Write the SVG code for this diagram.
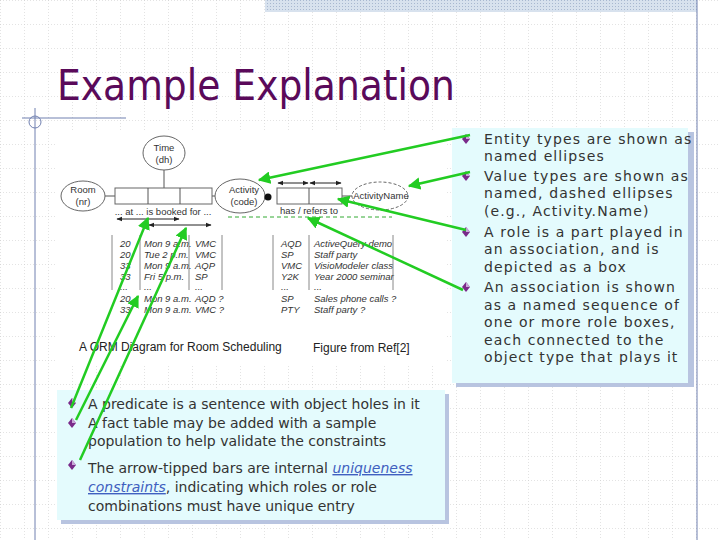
<svg xmlns="http://www.w3.org/2000/svg" width="720" height="540" viewBox="0 0 720 540">
<defs>
<pattern id="grid" width="24" height="24" patternUnits="userSpaceOnUse"><path d="M0 0H24M0 0V24" stroke="#c8c8c8" stroke-width="1" stroke-dasharray="1 2" fill="none"/></pattern>
<pattern id="hatch" width="3" height="3" patternUnits="userSpaceOnUse"><rect width="3" height="3" fill="#d8e2ee"/><rect width="1" height="1" fill="#a8b8d0"/></pattern>
<marker id="ga" viewBox="0 0 10 10" refX="9" refY="5" markerWidth="5" markerHeight="5" orient="auto"><path d="M0 0L10 5L0 10z" fill="#22cc22"/></marker>
<marker id="ba" viewBox="0 0 10 10" refX="9" refY="5" markerWidth="6" markerHeight="6" orient="auto-start-reverse"><path d="M0 1L10 5L0 9z" fill="#222"/></marker>
<g id="bul"><path d="M0 -5L4 0L0 5L-4 0z" fill="#7a2a8a"/><path d="M0 -5L4 0L0 0z" fill="#c9a8d8"/></g>
</defs>
<style>
.s{font-family:"Liberation Sans",Arial,sans-serif;fill:#222}
.b{font-family:"DejaVu Sans",sans-serif;font-size:14px;fill:#333}
.r{letter-spacing:1.1px}
.d{font-family:"Liberation Sans",Arial,sans-serif;font-size:9.5px;fill:#333}
.i{font-family:"Liberation Sans",Arial,sans-serif;font-size:9.5px;font-style:italic;fill:#333}
.ln{stroke:#555;stroke-width:1;fill:none}
.el{stroke:#666;stroke-width:1;fill:#fff}
.g{stroke:#22cc22;stroke-width:2.5;fill:none;marker-end:url(#ga)}
</style>
<rect width="720" height="540" fill="#fff"/>
<rect width="720" height="540" fill="url(#grid)"/>
<rect x="265" y="0" width="432" height="12" fill="url(#hatch)"/>
<line x1="697" y1="0" x2="697" y2="540" stroke="#7080b0"/>
<line x1="22" y1="118" x2="126" y2="118" stroke="#7080b0"/>
<line x1="35" y1="108" x2="35" y2="540" stroke="#7080b0"/>
<circle cx="35" cy="122" r="6" fill="none" stroke="#7080b0"/>
<text x="57" y="100" font-family="DejaVu Sans,sans-serif" font-size="43" fill="#5a0a5a" textLength="398" lengthAdjust="spacingAndGlyphs">Example Explanation</text>

<rect x="57" y="130" width="388" height="235" fill="#fff"/>

<g id="box-right">
<rect x="456" y="132" width="238" height="255" fill="#b8c4e0"/>
<rect x="452" y="128" width="236" height="255" fill="#e4fbfd"/>
<use href="#bul" x="466" y="139"/><use href="#bul" x="466" y="176"/><use href="#bul" x="466" y="232"/><use href="#bul" x="466" y="287"/>
<g class="b r">
<text x="484" y="144">Entity types are shown as</text>
<text x="484" y="161">named ellipses</text>
<text x="484" y="181">Value types are shown as</text>
<text x="484" y="198">named, dashed ellipses</text>
<text x="484" y="216">(e.g., Activity.Name)</text>
<text x="484" y="237">A role is a part played in</text>
<text x="484" y="254">an association, and is</text>
<text x="484" y="272">depicted as a box</text>
<text x="484" y="292">An association is shown</text>
<text x="484" y="310">as a named sequence of</text>
<text x="484" y="327">one or more role boxes,</text>
<text x="484" y="345">each connected to the</text>
<text x="484" y="362">object type that plays it</text>
</g>
</g>

<g id="box-bottom">
<rect x="61" y="394" width="388" height="130" fill="#b8c4e0"/>
<rect x="57" y="390" width="388" height="130" fill="#e4fbfd"/>
<use href="#bul" x="72" y="403"/><use href="#bul" x="72" y="423"/><use href="#bul" x="72" y="465"/>
<g class="b">
<text x="88" y="409">A predicate is a sentence with object holes in it</text>
<text x="88" y="428">A fact table may be added with a sample</text>
<text x="88" y="446">population to help validate the constraints</text>
<text x="88" y="473">The arrow-tipped bars are internal <tspan fill="#4060c0" font-style="italic" text-decoration="underline">uniqueness</tspan></text>
<text x="88" y="492"><tspan fill="#4060c0" font-style="italic" text-decoration="underline">constraints</tspan>, indicating which roles or role</text>
<text x="88" y="511">combinations must have unique entry</text>
</g>
</g>

<g id="orm">
<line class="ln" x1="164" y1="170" x2="164" y2="188"/>
<line class="ln" x1="105" y1="196" x2="115" y2="196"/>
<line class="ln" x1="212" y1="196" x2="215" y2="196"/>
<line class="ln" x1="342" y1="196" x2="352" y2="196"/>
<g id="time"><ellipse class="el" cx="164" cy="153" rx="21" ry="17"/><text class="d" x="164" y="151" text-anchor="middle">Time</text><text class="d" x="164" y="163" text-anchor="middle">(dh)</text></g>
<g id="room"><ellipse class="el" cx="83" cy="196" rx="22" ry="15"/><text class="d" x="83" y="193" text-anchor="middle">Room</text><text class="d" x="83" y="205" text-anchor="middle">(nr)</text></g>
<g id="activity"><ellipse class="el" cx="240" cy="196" rx="25" ry="17"/><text class="d" x="244" y="193" text-anchor="middle">Activity</text><text class="d" x="244" y="205" text-anchor="middle">(code)</text></g>
<g id="activityname"><ellipse class="el" cx="380" cy="196" rx="28" ry="14" stroke-dasharray="3 2"/><text class="d" x="381" y="199" text-anchor="middle">ActivityName</text></g>
<circle cx="268" cy="197" r="3.5" fill="#111"/>
<g id="pred1"><rect class="el" x="115" y="188" width="97" height="16"/><line class="ln" x1="148" y1="188" x2="148" y2="204"/><line class="ln" x1="180" y1="188" x2="180" y2="204"/>
<text class="d" x="163" y="215" text-anchor="middle">... at ... is booked for ...</text></g>
<g id="pred2"><rect class="el" x="277" y="188" width="65" height="16"/><line class="ln" x1="309" y1="188" x2="309" y2="204"/>
<text class="d" x="309" y="214" text-anchor="middle">has / refers to</text></g>
<line x1="228" y1="217" x2="392" y2="217" stroke="#3a3" stroke-dasharray="4 3"/>
<line x1="117" y1="219" x2="179" y2="219" stroke="#222" marker-start="url(#ba)" marker-end="url(#ba)"/>
<line x1="149" y1="225" x2="211" y2="225" stroke="#222" marker-start="url(#ba)" marker-end="url(#ba)"/>
<line x1="278" y1="183" x2="308" y2="183" stroke="#222" marker-start="url(#ba)" marker-end="url(#ba)"/>
<line x1="310" y1="183" x2="341" y2="183" stroke="#222" marker-start="url(#ba)" marker-end="url(#ba)"/>
<g id="table1" stroke="#888"><path d="M112 235V290M140 235V290M189 235V290M222 235V290"/></g>
<g id="table2" stroke="#888"><path d="M273 235V290M309 235V290M393 235V290"/></g>
<g class="i">
<text x="120" y="247">20</text><text x="144" y="247">Mon 9 a.m.</text><text x="195" y="247">VMC</text>
<text x="120" y="258">20</text><text x="144" y="258">Tue 2 p.m.</text><text x="195" y="258">VMC</text>
<text x="120" y="269">33</text><text x="144" y="269">Mon 9 a.m.</text><text x="195" y="269">AQP</text>
<text x="120" y="280">33</text><text x="144" y="280">Fri 5 p.m.</text><text x="195" y="280">SP</text>
<text x="120" y="290">...</text><text x="144" y="290">...</text><text x="195" y="290">...</text>
<text x="120" y="302">20</text><text x="144" y="302">Mon 9 a.m.</text><text x="195" y="302">AQD ?</text>
<text x="120" y="313">33</text><text x="144" y="313">Mon 9 a.m.</text><text x="195" y="313">VMC ?</text>
<text x="281" y="247">AQD</text><text x="314" y="247">ActiveQuery demo</text>
<text x="281" y="258">SP</text><text x="314" y="258">Staff party</text>
<text x="281" y="269">VMC</text><text x="314" y="269">VisioModeler class</text>
<text x="281" y="280">Y2K</text><text x="314" y="280">Year 2000 seminar</text>
<text x="281" y="290">...</text><text x="314" y="290">...</text>
<text x="281" y="302">SP</text><text x="314" y="302">Sales phone calls ?</text>
<text x="281" y="313">PTY</text><text x="314" y="313">Staff party ?</text>
</g>
<text class="s" x="79" y="351" font-size="12">A ORM Diagram for Room Scheduling</text>
<text class="s" x="313" y="352" font-size="12">Figure from Ref[2]</text>
</g>

<g id="connectors">
<line class="g" x1="470" y1="135" x2="259" y2="180"/>
<line class="g" x1="470" y1="172" x2="409" y2="186"/>
<line class="g" x1="466" y1="230" x2="338" y2="199"/>
<line class="g" x1="463" y1="290" x2="308" y2="218"/>
<line class="g" x1="71" y1="408" x2="148" y2="218"/>
<line class="g" x1="76" y1="420" x2="138" y2="296"/>
<line class="g" x1="80" y1="460" x2="186" y2="228"/>
</g>
</svg>
